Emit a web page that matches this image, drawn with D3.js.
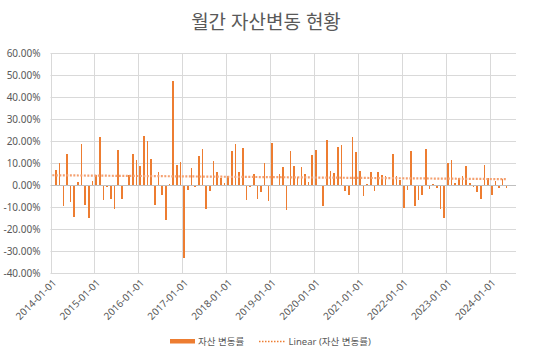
<!DOCTYPE html>
<html><head><meta charset="utf-8">
<script src="https://cdn.jsdelivr.net/npm/d3@7"></script>
<style>
body{margin:0;background:#fff;}
svg{display:block;font-family:"Noto Sans","Noto Sans CJK KR",sans-serif;}
</style></head>
<body><svg id="c" width="533" height="356"></svg>
<script>
const title = "월간 자산변동 현황";
const seriesName = "자산 변동률";
const trendName = "Linear (자산 변동률)";
const startMonth = "2014-01-01";
const monthCount = 127;
// monthly change rate (%), from 2014-01 (first is undefined)
const values = [
  null, 6.8, 10.0, -9.4, 14.1, -7.7, -14.5, 1.4, 18.6, -8.9, -14.8, 1.8,
  4.5, 21.8, -6.7, -0.8, -6.2, -10.8, 15.9, -6.2, 0, 4.5, 14.1, 11.4,
  8.6, 22.3, 20.0, 11.8, -8.9, 5.9, -4.4, -15.8, 0.5, 47.3, 9.1, 10.5,
  -33.0, -2.1, 7.7, -0.8, 13.2, 16.4, -10.8, -2.6, 10.9, 5.9, 3.2, 0.9,
  4.1, 15.5, 18.6, 5.9, 16.8, -6.7, -0.8, 5.0, -6.2, -3.0, 10.0, -7.1,
  19.1, 0, 5.0, 8.2, -11.2, 15.5, 8.6, 3.6, 8.2, 5.0, 1.4, 13.6,
  15.9, 0, -9.4, 20.5, 6.4, 5.5, 17.3, 18.2, -2.6, -4.4, 21.8, 15.0,
  6.4, -4.8, 0.5, 5.9, -2.6, 5.9, 4.5, 4.1, 0, 14.1, 4.1, 2.3,
  -10.3, -2.1, 15.5, -9.4, -6.7, -4.4, 16.4, -1.7, 0.5, -1.2, -10.8, -14.8,
  10.0, 11.4, 0.9, 3.2, 4.1, 8.6, 0.9, -0.8, -3.0, -6.2, 9.1, 3.2,
  -4.4, 1.8, -1.2, 2.7, -1.2
];
const yTicks = [-40, -30, -20, -10, 0, 10, 20, 30, 40, 50, 60];

const fmt = d3.timeFormat("%Y-%m-%d");
const parse = d3.timeParse("%Y-%m-%d");
const months = d3.range(monthCount).map(i => fmt(d3.timeMonth.offset(parse(startMonth), i)));
const data = values.map((v, i) => ({m: months[i], v, i})).filter(d => d.v !== null);

const svg = d3.select("#c");
const x = d3.scaleBand().domain(months).range([50.5, 515.5]);
const y = d3.scaleLinear().domain([-40, 60]).range([273, 53]);
const L = 50.5, R = 516;

// horizontal gridlines
svg.append("g").selectAll("line").data(yTicks.filter(t => t !== 0)).join("line")
  .attr("x1", L).attr("x2", R)
  .attr("y1", d => Math.round(y(d)) + 0.5).attr("y2", d => Math.round(y(d)) + 0.5)
  .attr("stroke", "#d9d9d9").attr("stroke-width", 1);
// vertical gridlines every 12 months
const yearMonths = months.filter((m, i) => i % 12 === 0);
svg.append("g").selectAll("line").data(yearMonths).join("line")
  .attr("x1", d => Math.round(x(d)) + 0.5).attr("x2", d => Math.round(x(d)) + 0.5)
  .attr("y1", y(60)).attr("y2", y(-40))
  .attr("stroke", "#d9d9d9").attr("stroke-width", 1);

// bars
svg.append("g").selectAll("rect").data(data).join("rect")
  .attr("x", d => x(d.m) + x.bandwidth() / 2 - 0.8)
  .attr("width", 1.6)
  .attr("y", d => y(Math.max(0, d.v)))
  .attr("height", d => Math.abs(y(d.v) - y(0)))
  .attr("fill", "#ED7D31")
  .attr("shape-rendering", "crispEdges");

// zero axis
svg.append("line").attr("x1", L).attr("x2", R)
  .attr("y1", Math.round(y(0)) + 0.5).attr("y2", Math.round(y(0)) + 0.5)
  .attr("stroke", "#bfbfbf").attr("stroke-width", 1);

// linear trendline (least squares on month index)
const n = data.length;
const mx = d3.mean(data, d => d.i), my = d3.mean(data, d => d.v);
const slope = d3.sum(data, d => (d.i - mx) * (d.v - my)) / d3.sum(data, d => (d.i - mx) ** 2);
const icpt = my - slope * mx;
const i0 = 0, i1 = values.length - 1;
svg.append("line")
  .attr("x1", x(months[i0]) + x.bandwidth() / 2).attr("x2", x(months[i1]) + x.bandwidth() / 2)
  .attr("y1", y(icpt + slope * i0)).attr("y2", y(icpt + slope * i1))
  .attr("stroke", "#F4A070").attr("stroke-width", 2.2).attr("stroke-dasharray", "2,1.5");

// y labels
svg.append("g").selectAll("text").data(yTicks).join("text")
  .attr("x", 40.5).attr("y", d => y(d)).attr("dy", "0.35em")
  .attr("text-anchor", "end").attr("font-size", 10).attr("fill", "#595959")
  .text(d => d.toFixed(2) + "%");

// x labels
svg.append("g").selectAll("text").data(yearMonths).join("text")
  .attr("transform", d => `translate(${x(d) + 4},${281}) rotate(-45)`)
  .attr("text-anchor", "end").attr("dy", "0.35em")
  .attr("font-size", 10).attr("fill", "#595959")
  .text(d => d);

// title
svg.append("text").attr("x", 266).attr("y", 29).attr("text-anchor", "middle")
  .attr("font-size", 19).attr("fill", "#595959").text(title);

// legend
const lg = svg.append("g");
lg.append("rect").attr("x", 170).attr("y", 339).attr("width", 25).attr("height", 4.5).attr("fill", "#ED7D31");
lg.append("text").attr("x", 198).attr("y", 341.5).attr("dy", "0.35em").attr("font-size", 9.5)
  .attr("fill", "#595959").text(seriesName);
lg.append("line").attr("x1", 259).attr("x2", 286).attr("y1", 341.5).attr("y2", 341.5)
  .attr("stroke", "#ED7D31").attr("stroke-width", 1.5).attr("stroke-dasharray", "1.5,1.5");
lg.append("text").attr("x", 288.5).attr("y", 341.5).attr("dy", "0.35em").attr("font-size", 9.5)
  .attr("fill", "#595959").text(trendName);
</script></body></html>
